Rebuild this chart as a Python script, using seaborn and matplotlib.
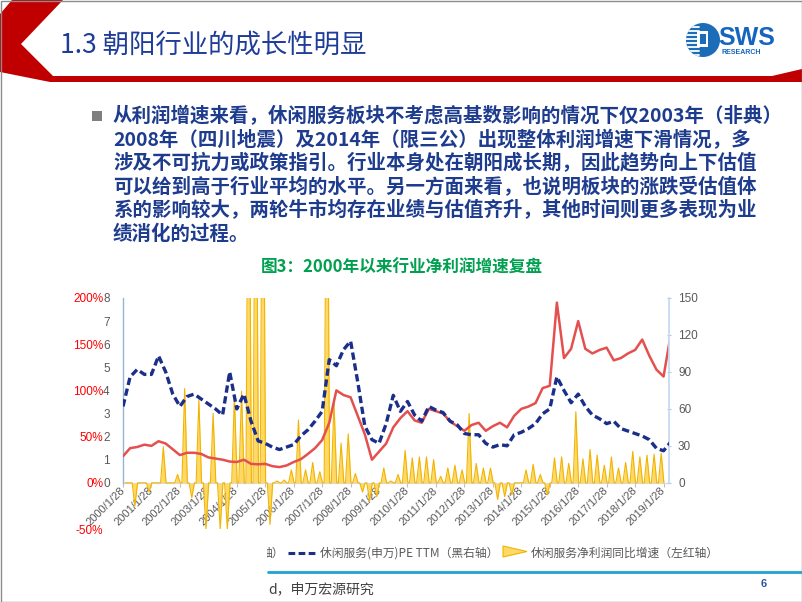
import numpy as np
import pandas as pd
import matplotlib
matplotlib.use("Agg")
import matplotlib.pyplot as plt
import seaborn as sns
from matplotlib.patches import Polygon, Rectangle, Circle

# ---------------- data ----------------
year_ticks = list(range(2000, 2020))
tick_labels = [f"{y}/1/28" for y in year_ticks]

# index level (black left axis), one value every 3 months from 2000/1
index_level = [1.15, 1.5, 1.55, 1.65, 1.6, 1.8, 1.7, 1.45, 1.2, 1.3,
               1.3, 1.25, 1.1, 1.05, 1.0, 0.92, 0.9, 1.0, 0.82, 0.8,
               0.82, 0.72, 0.68, 0.75, 0.9, 1.02, 1.25, 1.5, 1.85, 2.6,
               4.0, 3.8, 3.7, 2.9, 2.1, 1.0, 1.35, 1.7, 2.4, 2.8,
               3.1, 2.7, 2.6, 3.2, 3.1, 3.0, 2.65, 2.45, 2.25, 2.5,
               2.6, 2.25, 2.45, 2.6, 2.4, 2.9, 3.2, 3.3, 3.45, 4.1,
               4.2, 7.8, 5.4, 5.8, 7.0, 5.8, 5.6, 5.75, 5.85, 5.3,
               5.4, 5.6, 5.75, 6.2, 5.5, 4.9, 4.6, 6.4]

# 休闲服务(申万)PE TTM (right axis), one value every 3 months from 2000/1
pe_ttm = [62, 86, 92, 88, 88, 103, 90, 72, 62, 70,
          72, 68, 64, 60, 55, 90, 60, 72, 50, 34,
          32, 29, 27, 29, 31, 38, 43, 50, 58, 100,
          95, 108, 115, 82, 46, 35, 32, 48, 71, 58,
          66, 55, 50, 62, 59, 57, 50, 47, 40, 39,
          39, 32, 29, 31, 30, 39, 41, 44, 48, 56,
          60, 86, 75, 65, 72, 62, 55, 52, 48, 50,
          44, 42, 40, 38, 35, 28, 26, 33]

# 休闲服务净利润同比增速 (%), quarterly 2000Q1 .. 2018Q4 (red left axis)
profit_yoy = [0, -25, 0, -10, 0, 39, 0, 9, 102, -16,
              90, -50, 75, -50, -50, 95, 99, 500, 500, 500,
              -45, 2, 3, 14, 68, 14, 22, 12, 500, 88,
              43, 53, 10, -10, -20, -15, 16, 2, 9, 35,
              27, 28, 28, 25, 7, 16, 19, 14, 75, 21,
              16, 16, -18, -15, -13, 0, 14, 20, 9, -13,
              27, 28, 21, 77, 26, 36, 30, 19, 28, 16,
              22, 34, 28, 30, 31, 32]

pct_ticks = [-50, 0, 50, 100, 150, 200]
left_ticks = list(range(0, 9))
right_ticks = [0, 30, 60, 90, 120, 150]

legend_pe = "休闲服务(申万)PE TTM（黑右轴）"
legend_profit = "休闲服务净利润同比增速（左红轴）"
title_text = "1.3 朝阳行业的成长性明显"
chart_title = "图3：2000年以来行业净利润增速复盘"
body_lines = [
    "从利润增速来看，休闲服务板块不考虑高基数影响的情况下仅2003年（非典）",
    "2008年（四川地震）及2014年（限三公）出现整体利润增速下滑情况，多",
    "涉及不可抗力或政策指引。行业本身处在朝阳成长期，因此趋势向上下估值",
    "可以给到高于行业平均的水平。另一方面来看，也说明板块的涨跌受估值体",
    "系的影响较大，两轮牛市均存在业绩与估值齐升，其他时间则更多表现为业",
    "绩消化的过程。",
]

# ---------------- style ----------------
sns.set_theme(style="white")
plt.rcParams["font.family"] = ["Noto Sans CJK SC", "DejaVu Sans"]
plt.rcParams["axes.unicode_minus"] = False

RED = "#E4504F"
NAVY = "#1B2F8A"
YEL_FILL = "#FFD966"
YEL_EDGE = "#F2B400"
GRAY = "#595959"
BLUE_TXT = "#1E3C8E"
AXIS_BLUE = "#95B3D7"

W, H = 802, 602
fig = plt.figure(figsize=(W / 100, H / 100), dpi=100)

# background / slide layer in pixel coordinates
bg = fig.add_axes([0, 0, 1, 1])
bg.set_xlim(0, W)
bg.set_ylim(H, 0)
bg.axis("off")

bg.add_patch(Polygon([(12, 0), (63, 0), (21, 44), (53, 76), (772, 76), (802, 69),
                      (802, 82), (50, 82), (0, 72), (0, 14)],
                     closed=True, fc="#C00000", ec="none"))
bg.text(60, 45, title_text, fontsize=19, color="#1F3C98", va="center", ha="left")

# logo
circ = Circle((703, 40), 17, fc="#1C6DB8", ec="none")
bg.add_patch(circ)
for yy in [27, 31, 35, 39, 43, 47, 51, 55]:
    ln, = bg.plot([684, 699], [yy, yy], color="white", lw=1.3)
    ln.set_clip_path(circ)
bg.add_patch(Rectangle((697, 31), 11, 16, fc="white", ec="none"))
bg.add_patch(Rectangle((700, 34), 6, 10, fc="#1C6DB8", ec="none"))
bg.text(718, 38, "SWS", fontsize=18, fontweight="bold", color="#1565C0",
        family="Liberation Sans", va="center", ha="left")
bg.text(722, 52, "RESEARCH", fontsize=5, fontweight="bold", color="#1565C0",
        family="Liberation Sans", va="center", ha="left")

# body text
bg.add_patch(Rectangle((92, 111), 10, 10, fc="#7F7F7F", ec="none"))
for i, line in enumerate(body_lines):
    bg.text(113, 116 + i * 23.6, line, fontsize=14, fontweight="bold",
            color=BLUE_TXT, va="center", ha="left")

bg.text(402, 268, chart_title, fontsize=12, fontweight="bold", color="#00A050",
        va="center", ha="center")

# legend (manual); the first entry is cut off on its left side in the slide
bg.text(260.5, 553, "轴）", fontsize=8.5, color=GRAY, va="center", ha="left",
        zorder=5)
bg.add_patch(Rectangle((240, 540), 26.5, 26, fc="white", ec="none", zorder=6))
dl, = bg.plot([288, 318], [553, 553], color=NAVY, lw=2.2)
dl.set_dashes([2.2, 1.1])
bg.text(320, 553, legend_pe, fontsize=8.5, color=GRAY, va="center", ha="left")
bg.add_patch(Polygon([(503, 546), (527, 551.5), (503, 557)], closed=True,
                     fc=YEL_FILL, ec=YEL_EDGE, lw=0.8))
bg.text(531, 553, legend_profit, fontsize=8.5, color=GRAY, va="center", ha="left")

# footer
bg.plot([268, 802], [571.5, 571.5], color="#1FA3CF", lw=2)
bg.text(268, 589, "d，申万宏源研究", fontsize=10, color="#404040", va="center", ha="left")
bg.text(764, 584, "6", fontsize=8, color="#2F5597", va="center", ha="center",
        family="Liberation Sans", fontweight="bold")
bg.add_patch(Rectangle((0.5, 0.5), W - 1, H - 1, fill=False, ec="#8C8C8C", lw=1))

# ---------------- chart ----------------
L, R, T, B = 123, 669, 298, 529
ax = fig.add_axes([L / W, 1 - B / H, (R - L) / W, (B - T) / H])
ax.patch.set_alpha(0)

line_months = np.arange(len(index_level)) * 3
df_lines = pd.DataFrame({"month": line_months, "index": index_level, "pe": pe_ttm})

q_months = np.arange(len(profit_yoy)) * 3 + 2
xs, ys = [], []
for m, v in zip(q_months, profit_yoy):
    xs += [m - 1.15, m, m + 1.15]
    ys += [0, v, 0]
ax.fill_between(xs, 0, ys, color=YEL_FILL, lw=0, zorder=2)
ax.plot(xs, ys, color=YEL_EDGE, lw=0.8, zorder=3)

ax.set_xlim(0, 230.3)
ax.set_ylim(-50, 200)
ax.set_yticks(pct_ticks)
ax.set_yticklabels([f"{v}%" for v in pct_ticks])
ax.tick_params(axis="y", left=True, length=0, pad=14.2, labelsize=8.5,
               labelcolor="#FF0000", labelfontfamily="Liberation Sans")
for s in ["left", "top", "right"]:
    ax.spines[s].set_visible(False)
ax.spines["bottom"].set_position(("data", 0))
ax.spines["bottom"].set_color("#D9D9D9")
ax.spines["bottom"].set_linewidth(0.8)
ax.set_xticks([12 * i for i in range(len(year_ticks))])
ax.set_xticklabels(tick_labels, rotation=45, ha="right", va="center",
                   rotation_mode="anchor")
ax.tick_params(axis="x", bottom=True, length=3, width=0.8, color="#BFBFBF",
               pad=1.5, labelsize=8, labelcolor=GRAY,
               labelfontfamily="Liberation Sans")

# black left axis (index level)
ax2 = ax.twinx()
sns.lineplot(data=df_lines, x="month", y="index", ax=ax2, color=RED,
             linewidth=1.8, zorder=4)
ax2.yaxis.tick_left()
ax2.set_ylim(-2, 8)
ax2.set_yticks(left_ticks)
ax2.set_yticklabels([str(v) for v in left_ticks])
ax2.tick_params(axis="y", left=True, right=False, length=0, pad=9.6,
                labelsize=8.5, labelcolor=GRAY, labelfontfamily="Liberation Sans")
for s in ["top", "right", "bottom"]:
    ax2.spines[s].set_visible(False)
ax2.spines["left"].set_visible(True)
ax2.spines["left"].set_bounds(0, 8)
ax2.spines["left"].set_color(AXIS_BLUE)
ax2.spines["left"].set_linewidth(1)
ax2.set_ylabel("")

# right axis (PE TTM)
ax3 = ax.twinx()
sns.lineplot(data=df_lines, x="month", y="pe", ax=ax3, color=NAVY,
             linewidth=2.4, zorder=5)
ax3.lines[-1].set_dashes([2.2, 1.1])
ax3.set_ylim(-37.5, 150)
ax3.set_yticks(right_ticks)
ax3.set_yticklabels([str(v) for v in right_ticks])
ax3.tick_params(axis="y", right=True, left=False, length=3, direction="inout",
                width=0.8, color="#B4C7E7", pad=5, labelsize=8.5,
                labelcolor=GRAY, labelfontfamily="Liberation Sans")
for s in ["top", "left", "bottom"]:
    ax3.spines[s].set_visible(False)
ax3.spines["right"].set_visible(True)
ax3.spines["right"].set_bounds(0, 150)
ax3.spines["right"].set_color("#C6D9F1")
ax3.set_ylabel("")

ax.set_xlim(0, 230.3)
ax.set_xlabel("")

fig.savefig("out.png", dpi=100)
